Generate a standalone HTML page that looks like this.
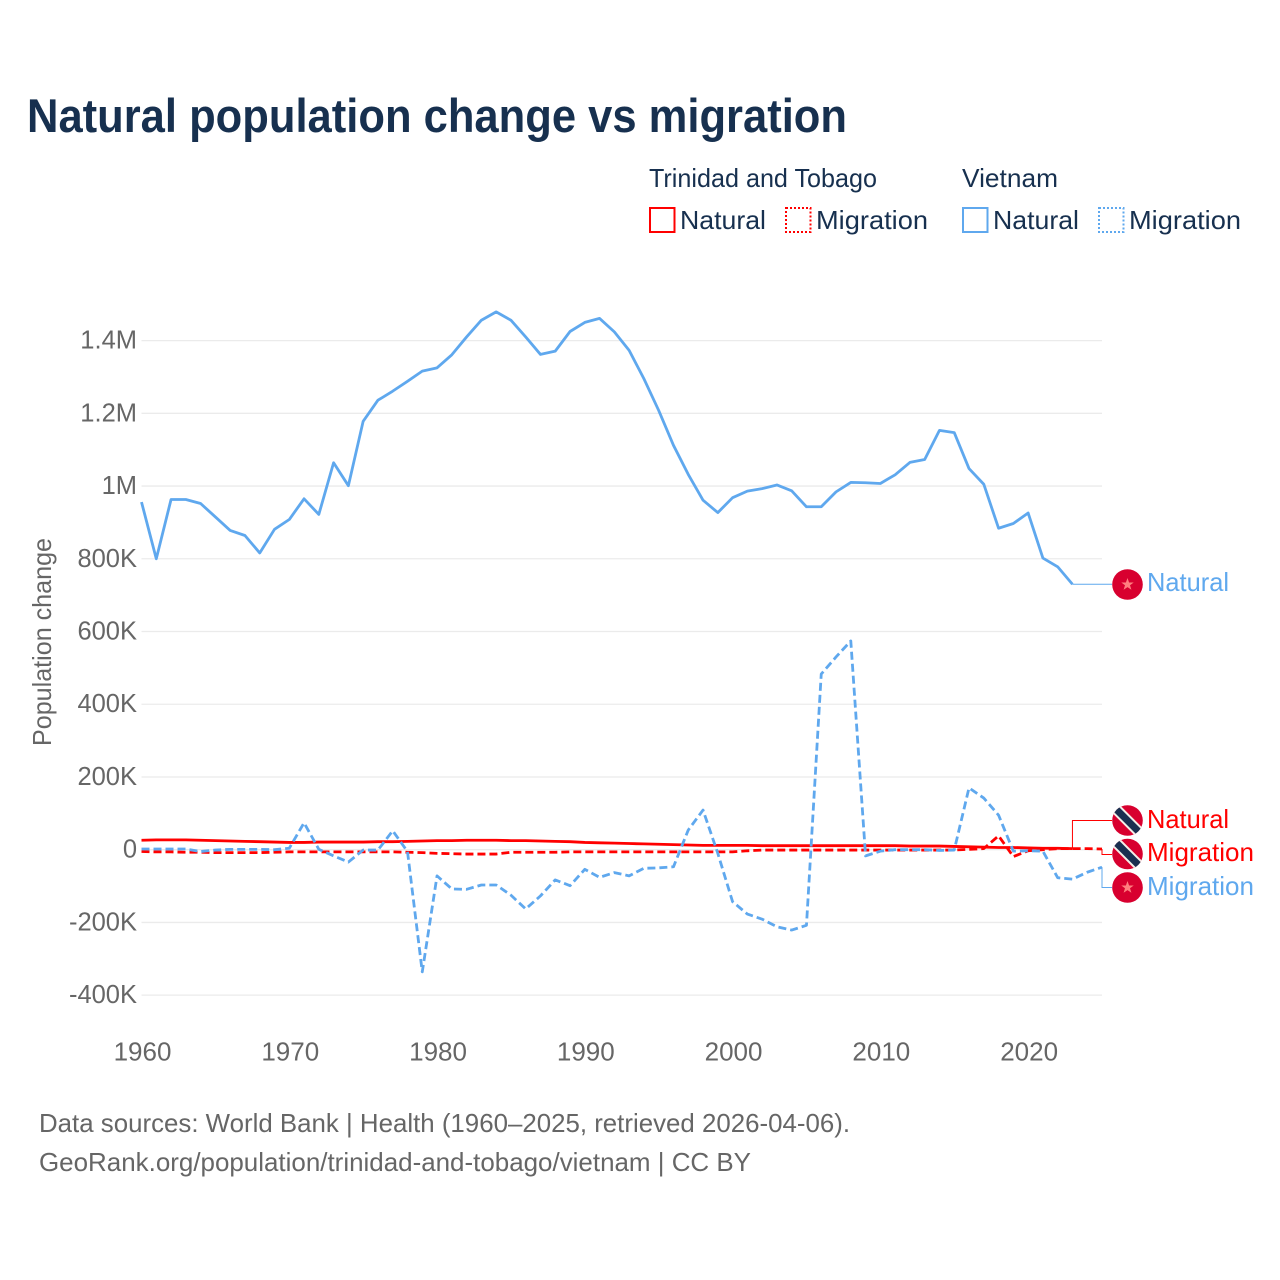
<!DOCTYPE html>
<html lang="en">
<head>
<meta charset="utf-8">
<title>Natural population change vs migration</title>
<style>
html,body{margin:0;padding:0;background:#fff;}
svg{display:block;font-family:"Liberation Sans",sans-serif;}
</style>
</head>
<body>
<svg id="chart" width="1280" height="1280" viewBox="0 0 1280 1280" xmlns="http://www.w3.org/2000/svg">
  <defs>
    <clipPath id="flag-clip"><circle cx="0" cy="0" r="15.3"/></clipPath>
    <g id="flag-tt">
      <circle cx="0" cy="0" r="15.3" fill="#d8002f"/>
      <g clip-path="url(#flag-clip)">
        <line x1="-15" y1="-15" x2="15" y2="15" stroke="#f4efe9" stroke-width="11"/>
        <line x1="-15" y1="-15" x2="15" y2="15" stroke="#1a2f50" stroke-width="7"/>
      </g>
    </g>
    <g id="flag-vn">
      <circle cx="0" cy="0" r="15.3" fill="#d8002f"/>
      <polygon points="0,-6.5 1.6,-2 6.2,-2 2.5,0.8 3.9,5.3 0,2.6 -3.9,5.3 -2.5,0.8 -6.2,-2 -1.6,-2" fill="#ff7f7f"/>
    </g>
  </defs>

  <rect x="0" y="0" width="1280" height="1280" fill="#ffffff"/>

  <text x="27" y="132" font-size="47" font-weight="700" fill="#17304f" textLength="820" lengthAdjust="spacingAndGlyphs">Natural population change vs migration</text>

  <g font-size="26" fill="#17304f">
    <text x="649" y="187" textLength="228" lengthAdjust="spacingAndGlyphs">Trinidad and Tobago</text>
    <text x="962" y="187" textLength="96" lengthAdjust="spacingAndGlyphs">Vietnam</text>

    <g>
      <rect x="650" y="208" width="24.5" height="24" fill="none" stroke="#ff0000" stroke-width="2"/>
      <text x="680" y="229" textLength="86" lengthAdjust="spacingAndGlyphs">Natural</text>
    </g>
    <g>
      <rect x="786" y="208" width="24.5" height="24" fill="none" stroke="#ff0000" stroke-width="2" stroke-dasharray="2,2"/>
      <text x="816" y="229" textLength="112" lengthAdjust="spacingAndGlyphs">Migration</text>
    </g>
    <g>
      <rect x="963" y="208" width="24.5" height="24" fill="none" stroke="#5fa8ee" stroke-width="2"/>
      <text x="993" y="229" textLength="86" lengthAdjust="spacingAndGlyphs">Natural</text>
    </g>
    <g>
      <rect x="1099" y="208" width="24.5" height="24" fill="none" stroke="#5fa8ee" stroke-width="2" stroke-dasharray="2,2"/>
      <text x="1129" y="229" textLength="112" lengthAdjust="spacingAndGlyphs">Migration</text>
    </g>
  </g>

  <g id="grid"></g>
  <g id="y-ticks"></g>
  <g id="x-ticks"></g>

  <text transform="translate(51,642) rotate(-90)" text-anchor="middle" font-size="26" fill="#666666" textLength="208" lengthAdjust="spacingAndGlyphs">Population change</text>

  <g id="connectors"></g>
  <g id="series"></g>

  <g font-size="26">
    <use href="#flag-vn" x="1127.5" y="584.5"/>
    <text x="1147" y="591" fill="#5fa8ee" textLength="82" lengthAdjust="spacingAndGlyphs">Natural</text>
    <use href="#flag-tt" x="1127.5" y="820.5"/>
    <text x="1147" y="828" fill="#ff0000" textLength="82" lengthAdjust="spacingAndGlyphs">Natural</text>
    <use href="#flag-tt" x="1127.5" y="854"/>
    <text x="1147" y="861" fill="#ff0000" textLength="107" lengthAdjust="spacingAndGlyphs">Migration</text>
    <use href="#flag-vn" x="1127.5" y="887.5"/>
    <text x="1147" y="895" fill="#5fa8ee" textLength="107" lengthAdjust="spacingAndGlyphs">Migration</text>
  </g>

  <g font-size="26" fill="#666666">
    <text x="39" y="1132" textLength="811" lengthAdjust="spacingAndGlyphs">Data sources: World Bank | Health (1960–2025, retrieved 2026-04-06).</text>
    <text x="39" y="1171" textLength="712" lengthAdjust="spacingAndGlyphs">GeoRank.org/population/trinidad-and-tobago/vietnam | CC BY</text>
  </g>
</svg>

<script>
var years = [1960,1961,1962,1963,1964,1965,1966,1967,1968,1969,1970,1971,1972,1973,1974,1975,1976,1977,1978,1979,1980,1981,1982,1983,1984,1985,1986,1987,1988,1989,1990,1991,1992,1993,1994,1995,1996,1997,1998,1999,2000,2001,2002,2003,2004,2005,2006,2007,2008,2009,2010,2011,2012,2013,2014,2015,2016,2017,2018,2019,2020,2021,2022,2023,2024,2025];

// Values in thousands of people
var vietnamNatural = [956,800,963,963,952,915,878,864,816,881,908,965,922,1064,1001,1178,1236,1261,1288,1316,1325,1361,1410,1456,1479,1456,1410,1362,1371,1425,1450,1461,1424,1373,1295,1208,1112,1032,961,927,968,986,993,1003,987,943,943,984,1010,1009,1007,1031,1065,1073,1153,1147,1048,1005,884,897,926,802,778,730];
var vietnamMigration = [2,2,2,2,-5,-1,1,1,1,0,4,74,1,-17,-34,-1,-1,52,-5,-336,-72,-108,-109,-97,-97,-125,-163,-127,-83,-99,-54,-76,-63,-72,-51,-50,-47,54,109,-10,-143,-177,-191,-212,-221,-208,483,530,574,-17,-4,0,0,0,-2,-1,170,142,95,-4,-3,-4,-77,-81,-62,-48];
var trinidadNatural = [26,27,27,27,26,25,24,23,22,21,20,20,21,21,21,21,22,22,23,24,25,25,26,26,26,25,25,24,23,22,20,19,18,17,16,15,14,13,12,12,12,12,11,11,11,11,11,11,11,11,11,11,10,10,10,9,8,7,6,6,5,4,4,3];
var trinidadMigration = [-5,-6,-6,-7,-7,-8,-8,-8,-8,-7,-6,-6,-6,-6,-6,-6,-6,-6,-7,-8,-10,-11,-12,-12,-12,-7,-7,-7,-7,-6,-6,-6,-6,-6,-6,-6,-6,-6,-6,-6,-6,-3,-1,-1,-1,-1,-1,-1,-1,-1,-1,-1,-1,-1,-1,-1,1,3,38,-19,-3,0,3,3,3,2];

var yTickValues = [-400,-200,0,200,400,600,800,1000,1200,1400];
var yTickLabels = ["-400K","-200K","0","200K","400K","600K","800K","1M","1.2M","1.4M"];
var xTickValues = [1960,1970,1980,1990,2000,2010,2020];
var xTickLabels = ["1960","1970","1980","1990","2000","2010","2020"];

var SVG_NS = "http://www.w3.org/2000/svg";
var plotLeft = 141.5, plotRight = 1102;

function xScale(year){ return plotLeft + (year - 1960) * (plotRight - plotLeft) / 65; }
function yScale(k){ return 849.7 - k * 72.73 / 200; }

function make(tag, parentId, attrs){
  var el = document.createElementNS(SVG_NS, tag);
  for (var k in attrs) el.setAttribute(k, attrs[k]);
  document.getElementById(parentId).appendChild(el);
  return el;
}
function seriesPath(values){
  var d = "";
  for (var i = 0; i < values.length; i++){
    d += (i ? "L" : "M") + xScale(years[i]).toFixed(2) + " " + yScale(values[i]).toFixed(2);
  }
  return d;
}

yTickValues.forEach(function(v, i){
  var line = make("line", "grid", {x1: plotLeft, x2: plotRight, y1: yScale(v), y2: yScale(v), stroke: "#ebebeb", "stroke-width": 1.3});
  
  
  var label = make("text", "y-ticks", {x: 137, y: yScale(v) + 8, "text-anchor": "end", "font-size": 25.5, fill: "#666666"});
  
  
  label.textContent = yTickLabels[i];
});

xTickValues.forEach(function(v, i){
  var label = make("text", "x-ticks", {x: xScale(v) + 1, y: 1060.5, "text-anchor": "middle", "font-size": 26, fill: "#666666"});
  
  
  label.textContent = xTickLabels[i];
});

// Connectors run from each series' last point to its flag
function lastX(values){ return xScale(years[values.length - 1]); }
function lastY(values){ return yScale(values[values.length - 1]); }

var c1 = make("path", "connectors", {d: "M" + lastX(vietnamNatural) + " " + lastY(vietnamNatural) + "H1112", fill: "none", stroke: "#5fa8ee", "stroke-width": 1});


var c2 = make("path", "connectors", {d: "M" + lastX(trinidadNatural) + " " + lastY(trinidadNatural) + "V820.5H1112", fill: "none", stroke: "#ff0000", "stroke-width": 1});


var c3 = make("path", "connectors", {d: "M" + lastX(trinidadMigration) + " " + lastY(trinidadMigration) + "V854.5H1112", fill: "none", stroke: "#ff0000", "stroke-width": 1});


var c4 = make("path", "connectors", {d: "M" + lastX(vietnamMigration) + " " + lastY(vietnamMigration) + "V887.5H1112", fill: "none", stroke: "#5fa8ee", "stroke-width": 1});



var s1 = make("path", "series", {d: seriesPath(trinidadNatural), fill: "none", stroke: "#ff0000", "stroke-width": 2.8, "stroke-linejoin": "round"});


var s2 = make("path", "series", {d: seriesPath(trinidadMigration), fill: "none", stroke: "#ff0000", "stroke-width": 2.8, "stroke-dasharray": "8,4", "stroke-linejoin": "round"});


var s3 = make("path", "series", {d: seriesPath(vietnamNatural), fill: "none", stroke: "#5fa8ee", "stroke-width": 2.8, "stroke-linejoin": "round"});


var s4 = make("path", "series", {d: seriesPath(vietnamMigration), fill: "none", stroke: "#5fa8ee", "stroke-width": 2.8, "stroke-dasharray": "8,4", "stroke-linejoin": "round"});


</script>
</body>
</html>
